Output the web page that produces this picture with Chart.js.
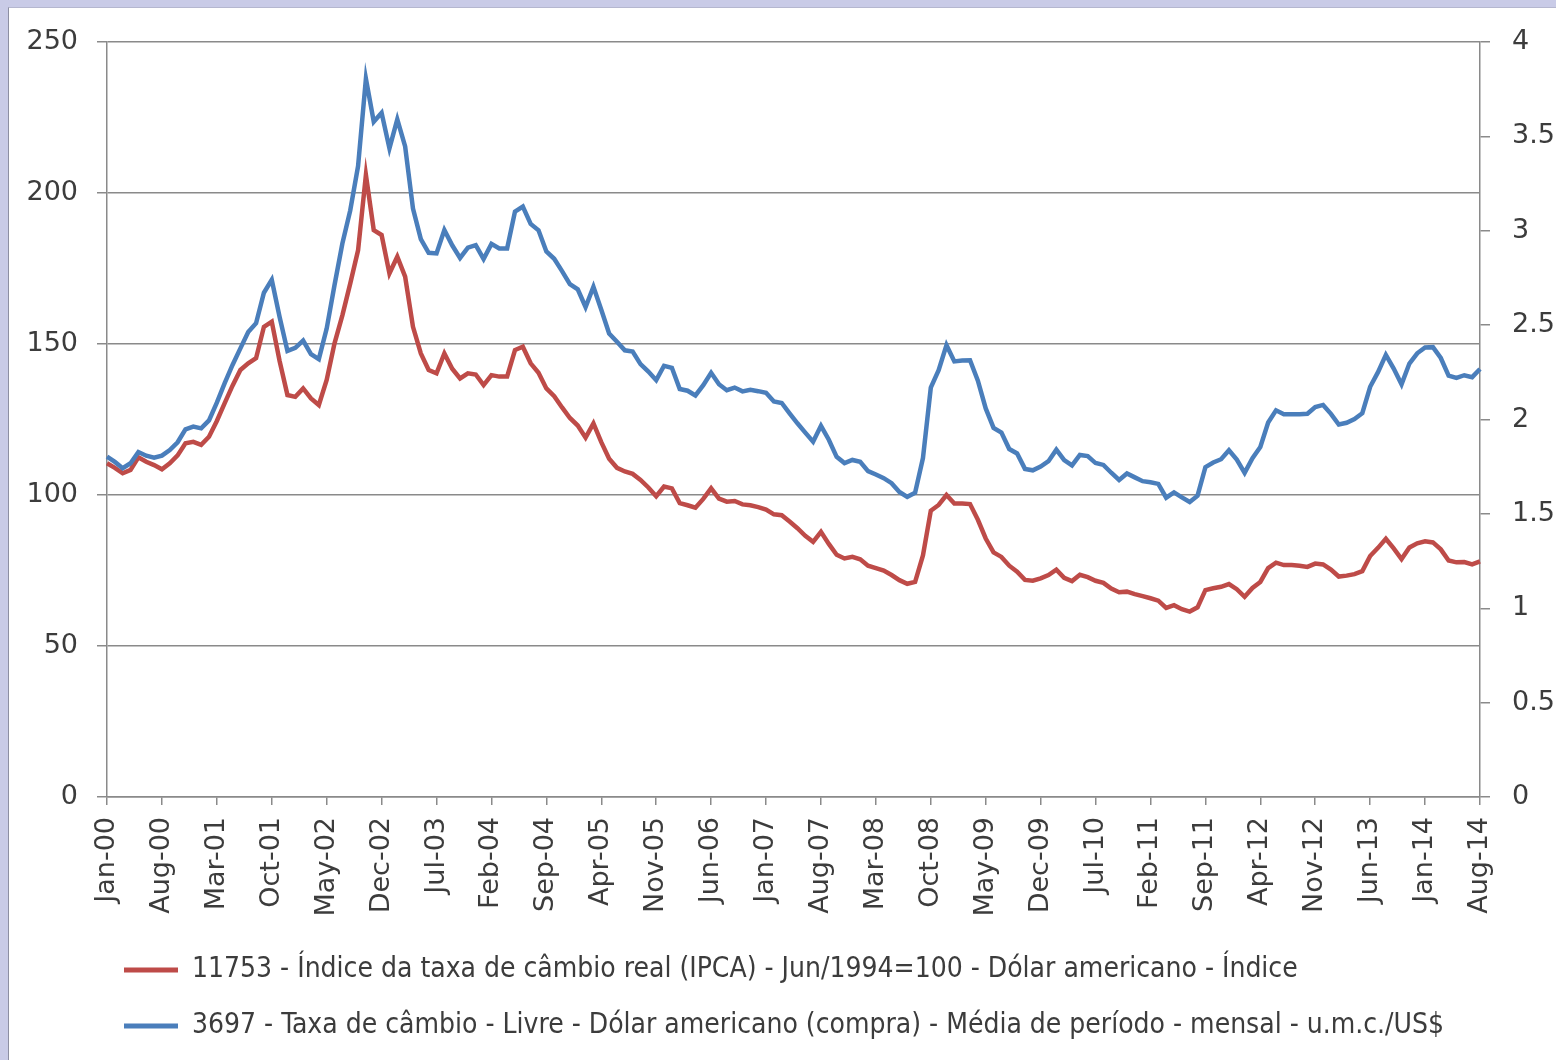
<!DOCTYPE html>
<html>
<head>
<meta charset="utf-8">
<title>Câmbio real x nominal</title>
<script src="https://cdn.jsdelivr.net/npm/chart.js@4.4.0/dist/chart.umd.min.js"></script>
<style>
    html, body { margin: 0; padding: 0; background: #c9cbe7; }
    #frame {
        position: absolute; left: 8px; top: 7px;
        width: 1547px; height: 1052px;
        background: #fff;
        border-left: 1px solid #8d8fa3;
        border-top: 1px solid #b5b7cf;
    }
    #frame canvas { display: block; }
</style>
</head>
<body>
<div id="frame"><canvas id="cambioChart" width="1547" height="1052"></canvas></div>
<script>
// Monthly series, Jan/2000 .. Aug/2014
const monthNames = ['Jan', 'Feb', 'Mar', 'Apr', 'May', 'Jun', 'Jul', 'Aug', 'Sep', 'Oct', 'Nov', 'Dec'];
const firstYear = 2000;
const lastYear = 2014;
const lastMonth = 8;

// 11753 - real exchange rate index (IPCA), Jun/1994 = 100  (left axis)
const realIndex = [
    110.5, 109.0, 107.2, 108.3, 112.5, 111.0, 109.9, 108.5, 110.5, 113.1, 117.1, 117.6,
    116.6, 119.3, 124.5, 130.4, 136.2, 141.4, 143.6, 145.3, 155.7, 157.4, 144.4, 133.1,
    132.5, 135.3, 132.0, 129.8, 138.1, 150.2, 159.5, 170.0, 181.0, 206.0, 187.7, 186.1,
    173.4, 178.9, 172.3, 155.7, 146.9, 141.4, 140.3, 146.9, 141.8, 138.6, 140.3, 139.9,
    136.4, 139.7, 139.2, 139.2, 148.0, 149.1, 143.6, 140.5, 135.3, 132.7, 129.0, 125.5,
    123.0, 119.0, 123.7, 117.5, 112.0, 109.0, 107.8, 107.0, 105.0, 102.5, 99.6, 102.8,
    102.2, 97.3, 96.6, 95.8, 98.7, 102.2, 98.8, 97.8, 98.0, 96.9, 96.6, 96.0,
    95.2, 93.6, 93.3, 91.2, 89.0, 86.5, 84.5, 87.8, 83.8, 80.2, 79.0, 79.5,
    78.7, 76.6, 75.8, 75.0, 73.5, 71.8, 70.6, 71.2, 80.0, 94.8, 96.7, 100.0,
    97.2, 97.2, 97.0, 91.8, 85.6, 81.0, 79.5, 76.6, 74.6, 71.9, 71.6, 72.4,
    73.5, 75.3, 72.6, 71.5, 73.6, 72.8, 71.6, 70.9, 69.0, 67.8, 68.0, 67.2,
    66.5, 65.8, 65.0, 62.6, 63.5, 62.2, 61.4, 62.8, 68.5, 69.1, 69.6, 70.5,
    68.8, 66.3, 69.2, 71.2, 75.8, 77.6, 76.8, 76.8, 76.6, 76.2, 77.3, 77.0,
    75.3, 73.0, 73.3, 73.8, 74.8, 79.8, 82.5, 85.5, 82.3, 78.8, 82.6, 84.0,
    84.7, 84.3, 82.0, 78.3, 77.7, 77.8, 77.0, 78.0
];

// 3697 - BRL per USD, monthly average (right axis)
const usdRate = [
    1.8037, 1.7753, 1.7420, 1.7682, 1.8279, 1.8083, 1.7978, 1.8087, 1.8384, 1.8794, 1.9478, 1.9625,
    1.9532, 1.9951, 2.0891, 2.1925, 2.2889, 2.3770, 2.4640, 2.5098, 2.6716, 2.7402, 2.5427, 2.3632,
    2.3795, 2.4181, 2.3465, 2.3196, 2.4814, 2.7127, 2.9325, 3.1074, 3.3420, 3.8055, 3.5774, 3.6252,
    3.4364, 3.5900, 3.4467, 3.1171, 2.9557, 2.8833, 2.8796, 3.0036, 2.9230, 2.8558, 2.9106, 2.9237,
    2.8507, 2.9304, 2.9058, 2.9059, 3.1018, 3.1279, 3.0362, 3.0025, 2.8904, 2.8514, 2.7862, 2.7172,
    2.6894, 2.5959, 2.7030, 2.5813, 2.4553, 2.4123, 2.3664, 2.3599, 2.2935, 2.2542, 2.2083, 2.2847,
    2.2741, 2.1617, 2.1524, 2.1273, 2.1815, 2.2477, 2.1867, 2.1551, 2.1691, 2.1491, 2.1571, 2.1501,
    2.1415, 2.0954, 2.0874, 2.0327, 1.9798, 1.9305, 1.8822, 1.9667, 1.8927, 1.8022, 1.7689, 1.7856,
    1.7755, 1.7265, 1.7083, 1.6889, 1.6625, 1.6163, 1.5903, 1.6116, 1.7958, 2.1687, 2.2612, 2.3939,
    2.3076, 2.3126, 2.3141, 2.2055, 2.0588, 1.9557, 1.9305, 1.8434, 1.8200, 1.7384, 1.7309, 1.7508,
    1.7793, 1.8404, 1.7850, 1.7567, 1.8121, 1.8063, 1.7692, 1.7593, 1.7179, 1.6798, 1.7138, 1.6934,
    1.6732, 1.6674, 1.6587, 1.5856, 1.6136, 1.5878, 1.5631, 1.5965, 1.7476, 1.7720, 1.7896, 1.8372,
    1.7876, 1.7175, 1.7951, 1.8542, 1.9839, 2.0485, 2.0275, 2.0283, 2.0284, 2.0301, 2.0662, 2.0773,
    2.0301, 1.9733, 1.9827, 2.0022, 2.0335, 2.1733, 2.2509, 2.3421, 2.2700, 2.1866, 2.2966, 2.3508,
    2.3818, 2.3834, 2.3259, 2.2328, 2.2209, 2.2346, 2.2243, 2.2678
];

const realLabel = '11753 - Índice da taxa de câmbio real (IPCA) - Jun/1994=100 - Dólar americano - Índice';
const usdLabel = '3697 - Taxa de câmbio - Livre - Dólar americano (compra) - Média de período - mensal - u.m.c./US$';

const leftTicks = { min: 0, max: 250, step: 50 };
const rightTicks = { min: 0, max: 4, step: 0.5 };
const labelEvery = 7;   // one date label every 7 months

// Category labels like "Jan-00"
function buildMonths() {
    const out = [];
    for (let y = firstYear; y <= lastYear; y++) {
        const upTo = y === lastYear ? lastMonth : 12;
        for (let m = 0; m < upTo; m++) {
            out.push(monthNames[m] + '-' + String(y % 100).padStart(2, '0'));
        }
    }
    return out;
}

const months = buildMonths();

const AXIS_GREY = '#8a8a8a';
const TEXT_COLOR = '#3c3c3c';
const axisFont = { family: '"DejaVu Sans", Verdana, sans-serif', size: 27 };
const legendFont = { family: '"Liberation Sans Narrow", "DejaVu Sans Condensed", sans-serif', size: 28 };

// The legend rows start under the plot, not at the canvas edge
const legendIndent = {
    id: 'legendIndent',
    afterLayout(chart) {
        if (chart.legend) chart.legend.left = 87;
    }
};

// Fixed width for a value axis; the label padding should not push the plot down
function fixValueAxis(width) {
    return scale => {
        scale.width = width;
        scale.paddingTop = 0;
        scale.paddingBottom = 0;
    };
}

const ctx = document.getElementById('cambioChart').getContext('2d');
new Chart(ctx, {
    type: 'line',
    data: {
        labels: months,
        datasets: [{
            label: realLabel,
            data: realIndex,
            yAxisID: 'y',
            borderColor: '#be4b48',
            backgroundColor: '#be4b48',
            borderWidth: 4.5,
            pointRadius: 0,
            tension: 0,
            order: 1
        }, {
            label: usdLabel,
            data: usdRate,
            yAxisID: 'y1',
            borderColor: '#4a7ebb',
            backgroundColor: '#4a7ebb',
            borderWidth: 4.5,
            pointRadius: 0,
            tension: 0,
            order: 0
        }]
    },
    plugins: [legendIndent],
    options: {
        responsive: false,
        animation: false,
        layout: { padding: { left: 0, right: 0, top: 34, bottom: 10 } },
        plugins: {
            legend: {
                position: 'bottom',
                align: 'start',
                labels: {
                    boxWidth: 54,
                    boxHeight: 5,
                    padding: 28,
                    color: TEXT_COLOR,
                    font: legendFont,
                    sort: (a, b) => a.datasetIndex - b.datasetIndex,
                    generateLabels: chart => Chart.defaults.plugins.legend.labels.generateLabels(chart)
                        .map(item => ({ ...item, lineWidth: 0 }))
                }
            },
            tooltip: { enabled: false }
        },
        scales: {
            x: {
                grid: { drawOnChartArea: false, tickLength: 8, color: AXIS_GREY, lineWidth: 1.5 },
                border: { color: AXIS_GREY, width: 1.5 },
                ticks: {
                    autoSkip: false,
                    minRotation: 90,
                    maxRotation: 90,
                    padding: 12,
                    color: TEXT_COLOR,
                    font: axisFont,
                    callback: (value, index) => index % labelEvery === 0 ? months[index] : null
                },
                afterFit: scale => { scale.height = 131; }
            },
            y: {
                position: 'left',
                min: leftTicks.min,
                max: leftTicks.max,
                ticks: { stepSize: leftTicks.step, padding: 19, color: TEXT_COLOR, font: axisFont },
                grid: { color: AXIS_GREY, lineWidth: 1.5, tickLength: 10 },
                border: { color: AXIS_GREY, width: 1.5 },
                afterFit: fixValueAxis(98)
            },
            y1: {
                position: 'right',
                min: rightTicks.min,
                max: rightTicks.max,
                ticks: {
                    stepSize: rightTicks.step,
                    padding: 22,
                    crossAlign: 'near',
                    color: TEXT_COLOR,
                    font: axisFont,
                    callback: value => String(value)
                },
                grid: { drawOnChartArea: false, color: AXIS_GREY, lineWidth: 1.5, tickLength: 10 },
                border: { color: AXIS_GREY, width: 1.5 },
                afterFit: fixValueAxis(76)
            }
        }
    }
});
</script>
</body>
</html>
